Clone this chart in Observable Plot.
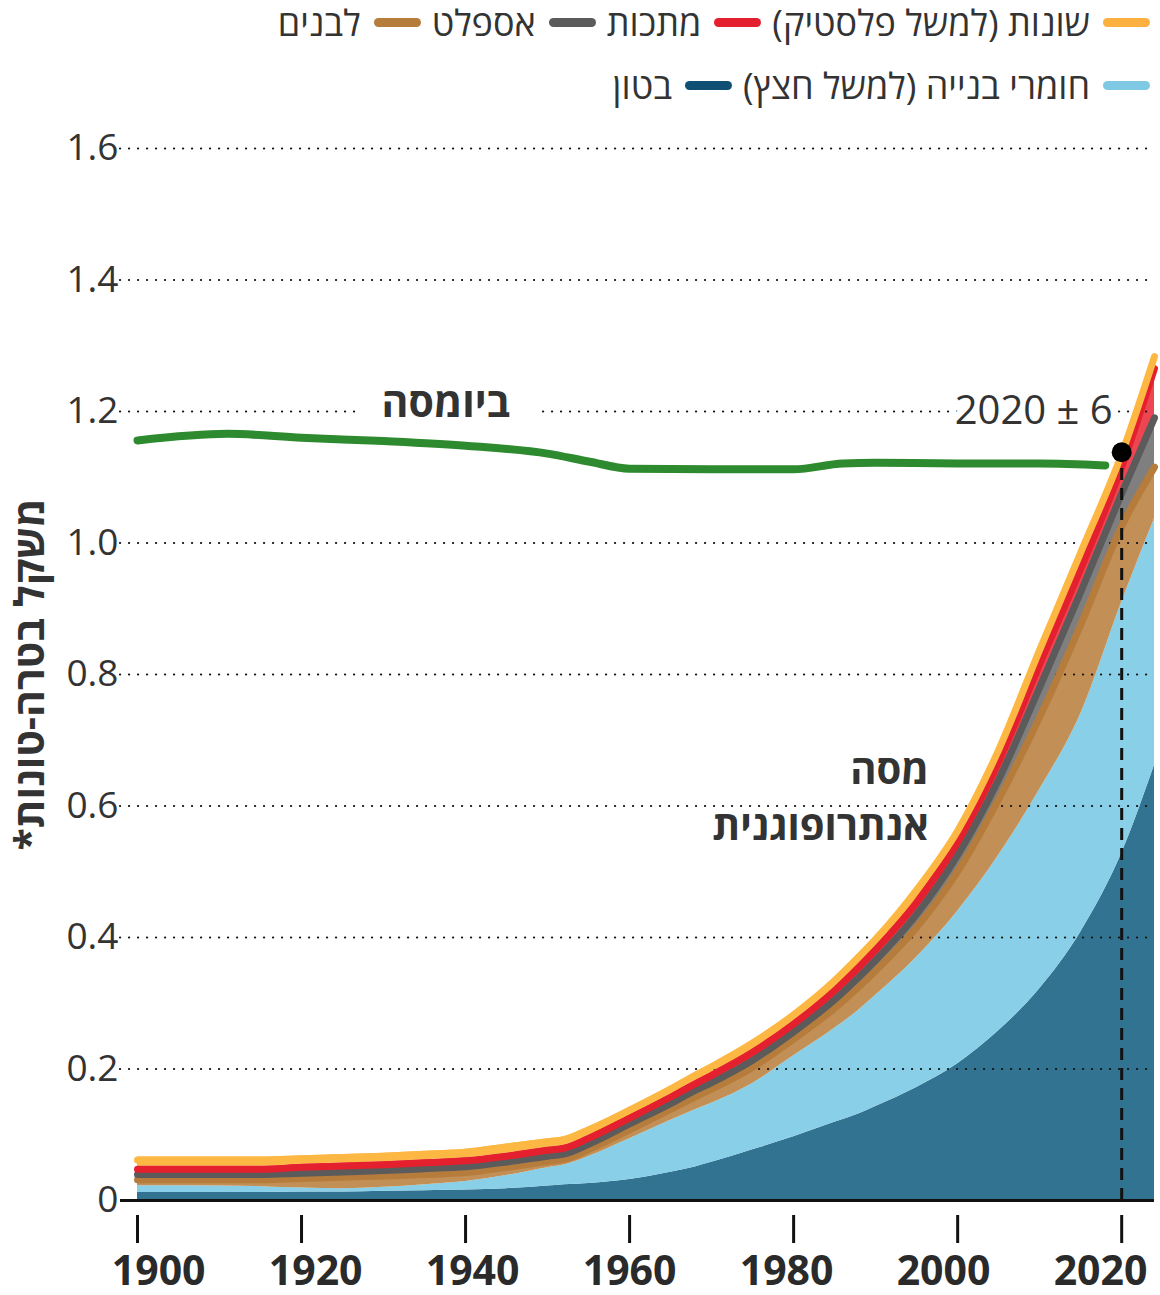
<!DOCTYPE html>
<html lang="he">
<head>
<meta charset="utf-8">
<script src="https://cdn.jsdelivr.net/npm/d3@7"></script>
<script src="https://cdn.jsdelivr.net/npm/@observablehq/plot@0.6"></script>
<style>
  html,body{margin:0;padding:0;background:#fff;}
  body{width:1160px;font-family:"Open Sans","DejaVu Sans",sans-serif;}
  #legend{position:relative;width:1160px;height:110px;color:#333;font-size:36px;}
  .lg-row{position:absolute;right:10px;display:flex;flex-direction:row;align-items:center;direction:rtl;height:50px;white-space:nowrap;}
  .lg-item{display:flex;align-items:center;margin-left:11px;}
  .lg-sw{width:47px;height:9px;border-radius:5px;margin-left:13px;flex:none;}
  #chart svg{display:block;}
</style>
</head>
<body>
<div id="legend"></div>
<div id="chart"></div>
<script>
// ---------- data (teratonnes, dry weight) ----------
const years      = [1900, 1910, 1915, 1920, 1925, 1930, 1935, 1940, 1945, 1950, 1952, 1955, 1960, 1965, 1968, 1970, 1975, 1980, 1985, 1988, 1990, 1995, 2000, 2005, 2010, 2015, 2020, 2024];
const concrete   = [0.012, 0.012, 0.012, 0.013, 0.013, 0.014, 0.015, 0.016, 0.018, 0.022, 0.024, 0.026, 0.032, 0.043, 0.051, 0.058, 0.077, 0.097, 0.119, 0.132, 0.143, 0.172, 0.208, 0.258, 0.322, 0.408, 0.528, 0.662];
const aggregates = [0.0105, 0.010, 0.009, 0.006, 0.005, 0.006, 0.009, 0.013, 0.020, 0.028, 0.030, 0.041, 0.062, 0.079, 0.087, 0.090, 0.101, 0.123, 0.143, 0.158, 0.169, 0.198, 0.232, 0.267, 0.303, 0.332, 0.382, 0.375];
const bricks     = [0.0135, 0.014, 0.015, 0.019, 0.022, 0.022, 0.020, 0.018, 0.017, 0.014, 0.013, 0.015, 0.018, 0.021, 0.024, 0.026, 0.029, 0.030, 0.035, 0.040, 0.042, 0.050, 0.065, 0.090, 0.115, 0.140, 0.120, 0.083];
const asphalt    = [0.008, 0.008, 0.008, 0.008, 0.008, 0.008, 0.009, 0.009, 0.008, 0.008, 0.008, 0.008, 0.009, 0.009, 0.010, 0.010, 0.011, 0.011, 0.013, 0.015, 0.016, 0.020, 0.025, 0.030, 0.045, 0.050, 0.050, 0.075];
const metals     = [0.008, 0.008, 0.008, 0.009, 0.009, 0.009, 0.009, 0.009, 0.009, 0.009, 0.009, 0.009, 0.009, 0.010, 0.010, 0.011, 0.012, 0.012, 0.014, 0.015, 0.016, 0.018, 0.020, 0.027, 0.035, 0.035, 0.040, 0.075];
const other      = [0.014, 0.014, 0.014, 0.013, 0.013, 0.013, 0.013, 0.013, 0.014, 0.013, 0.013, 0.013, 0.012, 0.012, 0.013, 0.013, 0.014, 0.014, 0.015, 0.016, 0.016, 0.019, 0.017, 0.018, 0.022, 0.025, 0.020, 0.018];

const biomassYears  = [1900, 1911, 1920, 1930, 1940, 1950, 1955, 1960, 1970, 1980, 1986, 1990, 2000, 2010, 2018];
const biomassValues = [1.156, 1.166, 1.160, 1.155, 1.148, 1.136, 1.124, 1.113, 1.112, 1.112, 1.121, 1.122, 1.121, 1.121, 1.118];

const materialKeys   = ["concrete", "aggregates", "bricks", "asphalt", "metals", "other"];
const materialLabels = ["בטון", "חומרי בנייה (למשל חצץ)", "לבנים", "אספלט", "מתכות", "שונות (למשל פלסטיק)"];
const materialSeries = [concrete, aggregates, bricks, asphalt, metals, other];

const xTicks = [1900, 1920, 1940, 1960, 1980, 2000, 2020];
const yTicks = [0, 0.2, 0.4, 0.6, 0.8, 1.0, 1.2, 1.4, 1.6];

const crossoverYear = 2020, crossoverValue = 1.138, crossoverError = 6;
const yLabel = "משקל בטרה-טונות*";
const biomassLabel = "ביומסה";
const anthroLines = ["מסה", "אנתרופוגנית"];

// ---------- styles ----------
const fillColors   = ["#337392", "#89cfe8", "#c28f56", "#7f7f7f", "#ee4553", "#fdb844"];
const lineColors   = ["none", "none", "#b67c3c", "#5b5b5b", "#e4202e", "#fdb844"];
const legendColors = ["#0e4f73", "#7fc9e4", "#b67c3c", "#5b5b5b", "#e4202e", "#fbb040"];
const legendRows   = [["other", "metals", "asphalt", "bricks"], ["aggregates", "concrete"]];
const FONT = '"Open Sans","DejaVu Sans",sans-serif';

// ---------- legend ----------
const legend = document.getElementById("legend");
legendRows.forEach((row, r) => {
  const div = document.createElement("div");
  div.className = "lg-row";
  div.style.top = (r === 0 ? -3 : 60) + "px";
  row.forEach(k => {
    const i = materialKeys.indexOf(k);
    const item = document.createElement("div");
    item.className = "lg-item";
    const sw = document.createElement("span");
    sw.className = "lg-sw";
    sw.style.background = legendColors[i];
    const tx = document.createElement("span");
    tx.textContent = materialLabels[i];
    item.appendChild(sw); item.appendChild(tx);
    div.appendChild(item);
  });
  legend.appendChild(div);
});

// ---------- tidy tables ----------
const rows = [];
materialKeys.forEach((k, j) => years.forEach((yr, i) => rows.push({year: yr, material: k, value: materialSeries[j][i]})));
const fillOf = Object.fromEntries(materialKeys.map((k, i) => [k, fillColors[i]]));
const lineOf = Object.fromEntries(materialKeys.map((k, i) => [k, lineColors[i]]));
const biomass = biomassYears.map((yr, i) => ({year: yr, value: biomassValues[i]}));
const crossover = [{year: crossoverYear, value: crossoverValue}];

const stackOpts = {x: "year", y: "value", z: "material", order: materialKeys};
const textStyle = {fill: "#333", fontWeight: "bold", fontSize: 41};

const chart = Plot.plot({
  width: 1160,
  height: 1185,
  marginLeft: 137,
  marginRight: 6,
  marginTop: 38,
  marginBottom: 95,
  x: {domain: [1900, 2024]},
  y: {domain: [0, 1.6]},
  color: {type: "identity"},
  style: {fontFamily: FONT, background: "white", overflow: "visible"},
  marks: [
    Plot.areaY(rows, Plot.stackY({...stackOpts, fill: d => fillOf[d.material], curve: "monotone-x"})),
    Plot.ruleY(yTicks.filter(d => d > 0), {y: d => d, stroke: "#111", strokeWidth: 2.2, strokeDasharray: "0.1,8.9", strokeLinecap: "round", insetLeft: -17}),
    Plot.lineY(rows, Plot.stackY2({...stackOpts, stroke: d => lineOf[d.material], strokeWidth: 7, dy: 3, curve: "monotone-x", strokeLinecap: "round", strokeLinejoin: "round"})),
    Plot.ruleY([0], {stroke: "#111", strokeWidth: 3, insetLeft: -17}),
    Plot.axisY({ticks: yTicks, tickSize: 0, tickPadding: 19, fontSize: 37, color: "#333", label: null,
      tickFormat: d => d === 0 ? "0" : d.toFixed(1)}),
    Plot.axisX({ticks: xTicks, tickSize: 28, dy: 15, tickFormat: () => "", label: null, stroke: "#111", strokeWidth: 3}),
    Plot.text(xTicks, {x: d => 1960 + (d - 1960) * 0.957, frameAnchor: "bottom", dy: 55, lineAnchor: "top",
      text: d => String(d), fontSize: 41, fontWeight: "bold", fill: "#2a2a2a"}),
    Plot.text([yLabel + "\u200F"], {...textStyle, frameAnchor: "left", dx: -107, rotate: -90, textAnchor: "middle", lineAnchor: "middle"}),
    Plot.text([biomassLabel], {...textStyle, x: 1937.6, y: 1.212, text: d => d,
      stroke: "white", strokeWidth: 54, strokeLinejoin: "round", lineAnchor: "middle"}),
    Plot.text(crossover, {x: 2018.9, y: 1.2, text: d => `${d.year} ± ${crossoverError}`, fontSize: 40, fill: "#333",
      textAnchor: "end", lineAnchor: "middle", stroke: "white", strokeWidth: 14}),
    Plot.text([anthroLines[0]], {...textStyle, fontSize: 40, x: 1996.5, y: 0.653, text: d => d, textAnchor: "end", lineAnchor: "middle", stroke: "white", strokeWidth: 8}),
    Plot.text([anthroLines[1]], {...textStyle, fontSize: 40, x: 1996.5, y: 0.568, text: d => d, textAnchor: "end", lineAnchor: "middle", stroke: "white", strokeWidth: 8}),
    Plot.lineY(biomass, {x: "year", y: "value", stroke: "#2e8a2e", strokeWidth: 8, strokeLinecap: "round", curve: "monotone-x"}),
    Plot.ruleX(crossover, {x: "year", y1: 0, y2: "value", stroke: "#111", strokeWidth: 3, strokeDasharray: "12,8"}),
    Plot.dot(crossover, {x: "year", y: "value", r: 10, fill: "black"})
  ]
});
document.getElementById("chart").appendChild(chart);
</script>
</body>
</html>
